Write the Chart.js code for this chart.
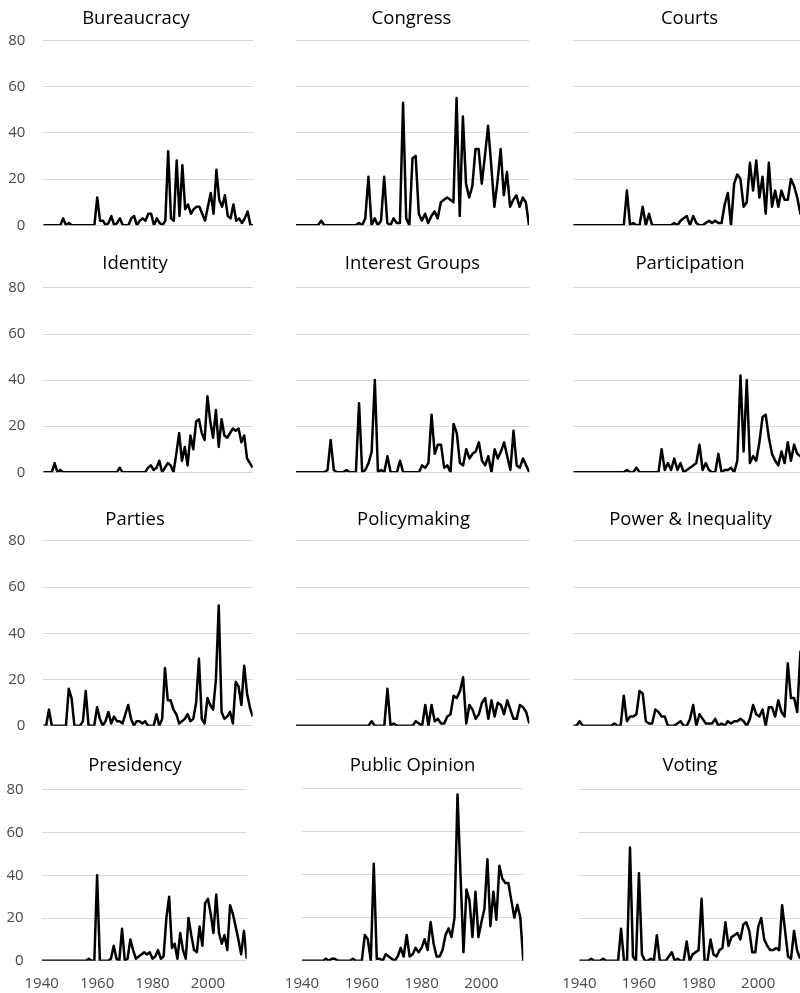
<!DOCTYPE html>
<html>
<head>
<meta charset="utf-8">
<title>Articles by topic, 1940-2014</title>
<script src="https://cdn.jsdelivr.net/npm/chart.js@4.4.1/dist/chart.umd.min.js"></script>
<style>
  html, body { margin: 0; padding: 0; background: #fff; overflow: hidden; width: 800px; height: 993px; }
  canvas { position: absolute; }
</style>
</head>
<body>
<script>
// categories
const years = [1940,1941,1942,1943,1944,1945,1946,1947,1948,1949,
  1950,1951,1952,1953,1954,1955,1956,1957,1958,1959,
  1960,1961,1962,1963,1964,1965,1966,1967,1968,1969,
  1970,1971,1972,1973,1974,1975,1976,1977,1978,1979,
  1980,1981,1982,1983,1984,1985,1986,1987,1988,1989,
  1990,1991,1992,1993,1994,1995,1996,1997,1998,1999,
  2000,2001,2002,2003,2004,2005,2006,2007,2008,2009,
  2010,2011,2012,2013,2014];

const xTicks = [1940, 1960, 1980, 2000];
const yTicks = [0, 20, 40, 60, 80];

// series, one value per year
const bureaucracy = [0,0,0,0,0,0,0,3,0,1, 0,0,0,0,0,0,0,0,0,12, 2,2,0,1,4,0,1,3,0,0,
  0,3,4,0,2,3,2,5,5,0, 3,1,0,2,32,3,2,28,4,26, 7,9,5,7,8,8,5,2,8,14,
  5,24,11,8,13,4,3,9,2,3, 1,3,6,0,0];
const congress = [0,0,0,0,0,0,0,0,2,0, 0,0,0,0,0,0,0,0,0,0, 1,0,3,21,0,3,0,2,21,1,
  0,3,1,1,53,3,0,29,30,5, 2,5,1,4,6,3,10,11,12,11, 10,55,4,47,18,12,17,33,33,18,
  30,43,26,8,19,33,13,23,8,11, 13,8,12,10,0];
const courts = [0,0,0,0,0,0,0,0,0,0, 0,0,0,0,0,0,0,15,0,1, 0,0,8,0,5,0,0,0,0,0,
  0,0,1,0,2,3,4,0,4,1, 0,0,1,2,1,2,1,1,9,14, 0,18,22,20,8,10,27,15,28,12,
  21,5,27,8,15,8,15,11,11,20, 17,12,5,3,2];
const identity = [0,0,0,0,4,0,1,0,0,0, 0,0,0,0,0,0,0,0,0,0, 0,0,0,0,0,0,0,2,0,0,
  0,0,0,0,0,0,0,2,3,1, 2,5,0,2,4,3,0,8,17,5, 11,3,16,10,22,23,17,14,33,22,
  15,27,11,23,16,15,17,19,18,19, 13,16,6,4,2];
const interestGroups = [0,0,0,0,0,0,0,0,0,0, 1,14,1,0,0,0,1,0,0,0, 30,0,1,4,9,40,0,1,0,7,
  0,0,0,5,0,0,0,0,0,0, 3,2,4,25,8,12,12,2,3,0, 21,17,4,3,10,6,8,9,13,5,
  3,7,0,10,6,9,13,7,1,18, 3,2,6,3,0];
const participation = [0,0,0,0,0,0,0,0,0,0, 0,0,0,0,0,0,0,1,0,0, 2,0,0,0,0,0,0,0,10,1,
  4,1,6,1,4,0,1,2,3,4, 12,1,4,1,0,0,8,0,1,1, 2,0,5,42,9,40,4,7,5,13,
  24,25,15,8,5,3,9,4,13,5, 12,8,7,8,6];
const parties = [0,0,7,0,0,0,0,0,0,16, 12,0,0,0,2,15,0,0,0,8, 3,0,2,6,1,4,2,2,1,5,
  9,3,0,2,2,1,2,0,0,0, 5,0,3,25,11,11,7,5,1,2, 3,5,2,3,10,29,3,1,12,9,
  7,20,52,6,3,4,6,1,19,17, 9,26,14,8,4];
const policymaking = [0,0,0,0,0,0,0,0,0,0, 0,0,0,0,0,0,0,0,0,0, 0,0,0,0,2,0,0,0,0,16,
  0,1,0,0,0,0,0,0,2,1, 0,9,0,9,2,3,1,1,4,5, 13,12,15,21,1,9,7,3,5,10,
  12,3,11,4,10,9,5,11,7,3, 3,9,8,6,1];
const powerInequality = [0,0,2,0,0,0,0,0,0,0, 0,0,0,1,0,0,13,2,4,4, 5,15,14,2,1,1,7,6,4,4,
  0,0,0,1,2,0,0,3,9,0, 5,3,1,1,1,3,0,1,0,2, 1,2,2,3,2,0,3,9,5,4,
  7,0,8,8,4,11,6,4,27,12, 12,6,32,20,25];
const presidency = [0,0,0,0,0,0,0,0,0,0, 0,0,0,0,0,0,0,1,0,0, 40,0,0,0,0,1,7,1,0,15,
  0,1,10,5,1,2,3,4,3,4, 1,2,5,1,2,20,30,6,8,1, 13,5,1,20,12,5,4,16,7,27,
  29,22,13,31,13,8,12,5,26,22, 16,10,3,14,1];
const publicOpinion = [0,0,0,0,0,0,0,0,1,0, 1,1,0,0,0,0,0,1,0,0, 0,12,10,0,45,1,1,0,3,2,
  1,0,2,6,2,12,2,3,6,4, 6,10,5,18,8,2,2,5,12,15, 11,20,77,40,4,33,28,11,32,11,
  18,24,47,16,32,19,44,38,36,36, 28,20,26,20,0];
const voting = [0,0,0,0,1,0,0,0,1,0, 0,0,0,0,15,0,0,53,2,0, 41,3,0,0,1,0,12,0,0,0,
  2,4,0,1,0,0,9,0,3,4, 5,29,0,0,10,3,2,5,6,18, 7,11,12,13,10,17,18,14,4,4,
  16,20,10,7,5,5,6,5,26,14, 2,1,14,5,1];

// layout of the 12 small multiples: plot box (L,R,T,B), title centre (tx,ty), canvas left (cl)
const panels = [
  { title: 'Bureaucracy',        data: bureaucracy,     cl: 0,   L: 43.3,  R: 253.3, T: 40.7,  B: 225.7, tx: 135.8, ty: 19.5,  yLab: true,  xLab: false },
  { title: 'Congress',           data: congress,        cl: 280, L: 296,   R: 529,   T: 40.7,  B: 225.7, tx: 411.7, ty: 19.5,  yLab: false, xLab: false },
  { title: 'Courts',             data: courts,          cl: 560, L: 573.3, R: 806.7, T: 40.7,  B: 225.7, tx: 689.3, ty: 19.5,  yLab: false, xLab: false },
  { title: 'Identity',           data: identity,        cl: 0,   L: 43.3,  R: 252.7, T: 288.3, B: 472.7, tx: 135,   ty: 264.5, yLab: true,  xLab: false },
  { title: 'Interest Groups',    data: interestGroups,  cl: 280, L: 296,   R: 529.3, T: 288.3, B: 472.7, tx: 412.3, ty: 264.5, yLab: false, xLab: false },
  { title: 'Participation',      data: participation,   cl: 560, L: 573.3, R: 806.7, T: 288.3, B: 472.7, tx: 690,   ty: 264.5, yLab: false, xLab: false },
  { title: 'Parties',            data: parties,         cl: 0,   L: 43.3,  R: 252.7, T: 541,   B: 726,   tx: 135,   ty: 520.3, yLab: true,  xLab: false },
  { title: 'Policymaking',       data: policymaking,    cl: 280, L: 296,   R: 529.3, T: 541,   B: 726,   tx: 413.3, ty: 520.3, yLab: false, xLab: false },
  { title: 'Power & Inequality', data: powerInequality, cl: 560, L: 573.3, R: 806.7, T: 541,   B: 726,   tx: 690.7, ty: 520.3, yLab: false, xLab: false },
  { title: 'Presidency',         data: presidency,      cl: 0,   L: 41.7,  R: 246.7, T: 790,   B: 961,   tx: 135,   ty: 766.3, yLab: true,  xLab: true },
  { title: 'Public Opinion',     data: publicOpinion,   cl: 280, L: 302,   R: 523.3, T: 788.3, B: 961,   tx: 412.7, ty: 766.3, yLab: false, xLab: true },
  { title: 'Voting',             data: voting,          cl: 560, L: 579.3, R: 800,   T: 790,   B: 961,   tx: 690,   ty: 766.3, yLab: false, xLab: true }
];

Chart.defaults.font.family = "'Open Sans', 'DejaVu Sans', sans-serif";

const TITLE_SIZE = 18.5;
const TITLE_PAD = 4;
const X_AXIS_H = 32;
const TICK_COLOR = '#4a4a4a';

panels.forEach(p => {
  const w = Math.round(2 * (p.tx - p.cl));
  const top = p.ty - 0.6 * TITLE_SIZE - TITLE_PAD;
  const axisH = p.xLab ? X_AXIS_H : 0;
  const h = Math.ceil(p.B - top + axisH) + (p.xLab ? 0 : 4);

  const canvas = document.createElement('canvas');
  canvas.width = w;
  canvas.height = h;
  canvas.style.left = p.cl + 'px';
  canvas.style.top = top + 'px';
  canvas.style.width = w + 'px';
  canvas.style.height = h + 'px';
  document.body.appendChild(canvas);

  new Chart(canvas, {
    type: 'line',
    data: {
      datasets: [{
        data: p.data.map((v, i) => ({ x: years[i], y: v })),
        borderColor: '#000',
        borderWidth: 2.5,
        borderJoinStyle: 'round',
        pointRadius: 0,
        tension: 0,
        fill: false
      }]
    },
    options: {
      responsive: false,
      animation: false,
      devicePixelRatio: 1,
      layout: { padding: { left: 0, right: 0, top: 0, bottom: h - (p.B - top) - axisH } },
      plugins: {
        legend: { display: false },
        tooltip: { enabled: false },
        title: {
          display: true,
          text: p.title,
          color: '#000',
          font: { size: TITLE_SIZE, weight: 'normal' },
          padding: { top: TITLE_PAD, bottom: p.T - p.ty - 0.6 * TITLE_SIZE }
        }
      },
      scales: {
        x: {
          type: 'linear',
          min: 1940,
          max: 2014,
          display: p.xLab,
          afterBuildTicks: s => { s.ticks = xTicks.map(v => ({ value: v })); },
          afterFit: s => { s.height = axisH; s.paddingLeft = 0; s.paddingRight = 0; },
          grid: { display: false },
          border: { display: false },
          ticks: { color: TICK_COLOR, font: { size: 15 }, padding: 6, maxRotation: 0, callback: v => String(v) }
        },
        y: {
          min: 0,
          max: 80,
          afterBuildTicks: s => { s.ticks = yTicks.map(v => ({ value: v })); },
          afterFit: s => { s.width = p.L - p.cl; s.paddingTop = 0; s.paddingBottom = 0; },
          grid: { color: '#d9d9d9', lineWidth: 1, drawTicks: false },
          border: { display: false },
          ticks: { display: p.yLab, color: TICK_COLOR, font: { size: 15 }, padding: 18 }
        },
        // empty right-hand axis, only keeps the gap to the right of the plot
        yr: {
          position: 'right',
          min: 0,
          max: 80,
          grid: { display: false },
          border: { display: false },
          ticks: { display: false },
          afterFit: s => { s.width = p.cl + w - p.R; s.paddingTop = 0; s.paddingBottom = 0; }
        }
      }
    }
  });
});
</script>
</body>
</html>
